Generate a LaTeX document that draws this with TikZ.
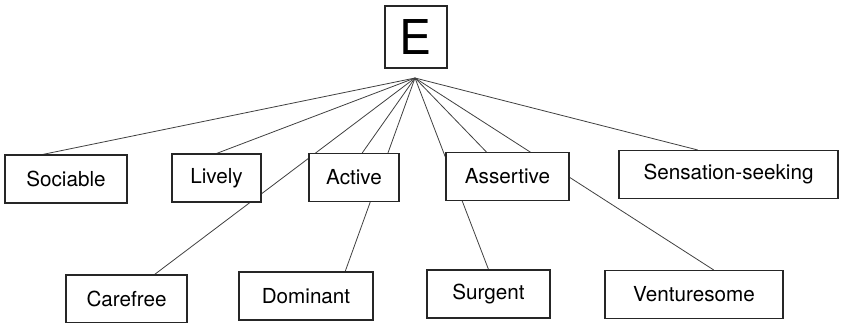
\documentclass[tikz,border=0pt]{standalone}
\usepackage{fontspec}
\setmainfont{TeX Gyre Heros}
\usetikzlibrary{backgrounds,calc}

\begin{document}
\begin{tikzpicture}[x=0.75pt,y=-0.75pt,
      trait/.style={rectangle,draw=black!85,fill=white,line width=0.8pt,
        minimum height=36pt,inner sep=0pt,font=\fontsize{15.5}{17}\selectfont},
      link/.style={draw=black!75,line width=0.6pt}]
      \useasboundingbox (0,0) rectangle (841,322);
      \node[trait,minimum width=46.5pt,minimum height=46.5pt,
        font=\fontsize{36}{38}\selectfont] (E) at (416,37) {E};
      \coordinate (Apex) at (415,78);
      % first row
      \node[trait,minimum width=91.5pt] (Sociable) at (66,179) {Sociable};
      \node[trait,minimum width=66.75pt] (Lively) at (216.5,178) {Lively};
      \node[trait,minimum width=67.5pt] (Active) at (354,177.5) {Active};
      \node[trait,minimum width=92.25pt] (Assertive) at (507.5,176.5) {Assertive};
      \node[trait,minimum width=164.25pt] (Sensation) at (728.5,174.5) {Sensation-seeking};
      % second row
      \node[trait,minimum width=90.75pt] (Carefree) at (126.5,299) {Carefree};
      \node[trait,minimum width=100.5pt] (Dominant) at (306,296) {Dominant};
      \node[trait,minimum width=92.25pt] (Surgent) at (488.5,294) {Surgent};
      \node[trait,minimum width=133.5pt] (Venturesome) at (694,294.5) {Venturesome};
      \begin{scope}[on background layer]
        \draw[link] (Apex) -- ($(Sociable.north west)!0.31!(Sociable.north east)$);
        \draw[link] (Apex) -- (Lively.north);
        \draw[link] (Apex) -- ($(Active.north west)!0.59!(Active.north east)$);
        \draw[link] (Apex) -- ($(Assertive.north west)!0.33!(Assertive.north east)$);
        \draw[link] (Apex) -- ($(Sensation.north west)!0.36!(Sensation.north east)$);
        \draw[link] (Apex) -- ($(Carefree.north west)!0.73!(Carefree.north east)$);
        \draw[link] (Apex) -- ($(Dominant.north west)!0.79!(Dominant.north east)$);
        \draw[link] (Apex) -- (Surgent.north);
        \draw[link] (Apex) -- ($(Venturesome.north west)!0.61!(Venturesome.north east)$);
      \end{scope}
\end{tikzpicture}
\end{document}
